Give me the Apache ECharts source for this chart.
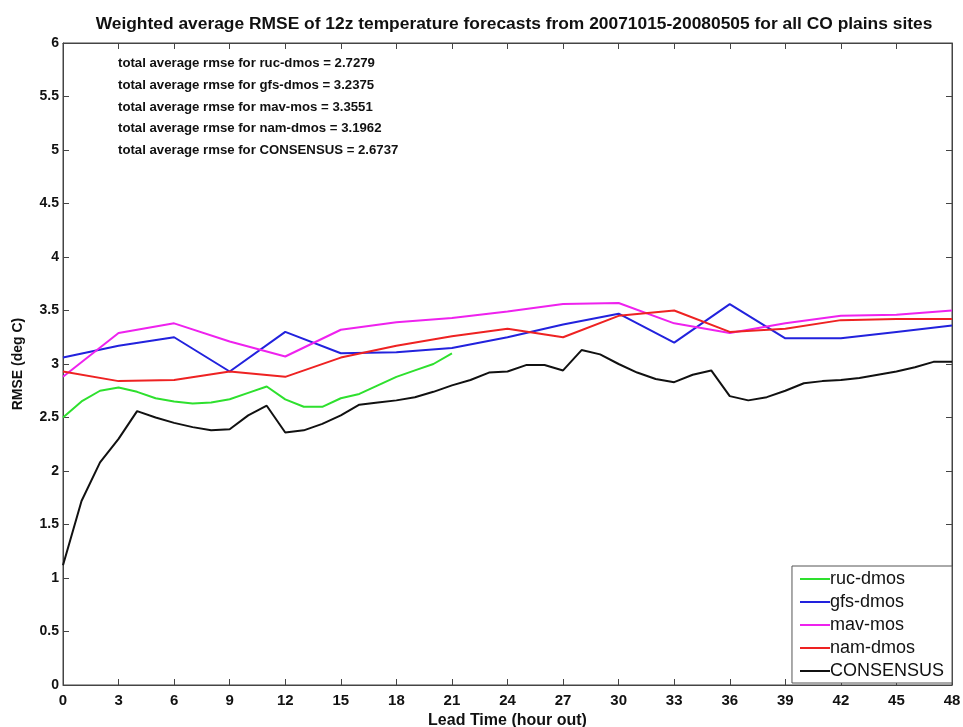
<!DOCTYPE html>
<html>
<head>
<meta charset="utf-8">
<script src="https://cdn.jsdelivr.net/npm/echarts@6/dist/echarts.min.js"></script>
<style>
html,body{margin:0;padding:0;background:#fff;}
#chart{width:963px;height:727px;}
</style>
</head>
<body>
<div id="chart"></div>
<script>
// ---- data ----
var titleText = 'Weighted average RMSE of 12z temperature forecasts from 20071015-20080505 for all CO plains sites';
var xAxisName = 'Lead Time (hour out)';
var yAxisName = 'RMSE (deg C)';
var seriesNames = ['ruc-dmos', 'gfs-dmos', 'mav-mos', 'nam-dmos', 'CONSENSUS'];
var totalRmse = ['2.7279', '3.2375', '3.3551', '3.1962', '2.6737'];

var hoursRuc = [0,1,2,3,4,5,6,7,8,9,10,11,12,13,14,15,16,17,18,19,20,21];
var rucDmos = [2.50,2.65,2.75,2.78,2.74,2.68,2.65,2.63,2.64,2.67,2.73,2.79,2.67,2.60,2.60,2.68,2.72,2.80,2.88,2.94,3.00,3.10];

var hours3 = [0,3,6,9,12,15,18,21,24,27,30,33,36,39,42,45,48];
var gfsDmos = [3.06,3.17,3.25,2.93,3.30,3.10,3.11,3.15,3.25,3.37,3.47,3.20,3.56,3.24,3.24,3.30,3.36];
var mavMos  = [2.88,3.29,3.38,3.21,3.07,3.32,3.39,3.43,3.49,3.56,3.57,3.38,3.29,3.38,3.45,3.46,3.50];
var namDmos = [2.93,2.84,2.85,2.93,2.88,3.06,3.17,3.26,3.33,3.25,3.45,3.50,3.30,3.33,3.41,3.42,3.42];

var hoursAll = [0,1,2,3,4,5,6,7,8,9,10,11,12,13,14,15,16,17,18,19,20,21,22,23,24,25,26,27,28,29,30,31,32,33,34,35,36,37,38,39,40,41,42,43,44,45,46,47,48];
var consensus = [1.12,1.72,2.08,2.30,2.56,2.50,2.45,2.41,2.38,2.39,2.52,2.61,2.36,2.38,2.44,2.52,2.62,2.64,2.66,2.69,2.74,2.80,2.85,2.92,2.93,2.99,2.99,2.94,3.13,3.09,3.00,2.92,2.86,2.83,2.90,2.94,2.70,2.66,2.69,2.75,2.82,2.84,2.85,2.87,2.90,2.93,2.97,3.02,3.02];

var xTicks = {min: 0, max: 48, interval: 3};
var yTicks = {min: 0, max: 6, interval: 0.5};

// ---- chart ----
function zip(xs, ys){ return xs.map(function(x,i){ return [x, ys[i]]; }); }
var colors = ['#2ee02e', '#2222dd', '#ee22ee', '#ee2222', '#111111'];
var seriesData = [zip(hoursRuc, rucDmos), zip(hours3, gfsDmos), zip(hours3, mavMos), zip(hours3, namDmos), zip(hoursAll, consensus)];

var font = '"Liberation Sans", Arial, sans-serif';
var chart = echarts.init(document.getElementById('chart'), null, {renderer: 'canvas'});

var grid = {left: 63, right: 11, top: 43, bottom: 42, containLabel: false, outerBoundsMode: 'none',
            show: true, borderColor: '#444', borderWidth: 1, backgroundColor: 'transparent'};

var annot = seriesNames.map(function(n, i){
  return {
    type: 'text', left: 118, top: 57 + i * 21.7,
    style: {text: 'total average rmse for ' + n + ' = ' + totalRmse[i], font: 'bold 13.2px ' + font, fill: '#111'}
  };
});

function axisLine(){ return {show: true, onZero: false, lineStyle: {color: '#444', width: 1}}; }
function axisTick(){ return {show: true, inside: true, length: 6, lineStyle: {color: '#444', width: 1}}; }
var option = {
  backgroundColor: '#fff',
  animation: false,
  title: {
    text: titleText, left: 509, top: 11, textAlign: 'center',
    textStyle: {fontFamily: font, fontSize: 17.4, fontWeight: 'bold', color: '#111'}
  },
  grid: grid,
  legend: {
    data: seriesNames, orient: 'vertical', right: 11, bottom: 44,
    backgroundColor: '#fff', borderColor: '#555', borderWidth: 1,
    padding: [4, 8, 3, 8], itemGap: 5, itemWidth: 30, itemHeight: 2, icon: 'rect',
    textStyle: {fontFamily: font, fontSize: 18, color: '#111', padding: [0,0,0,-5]}
  },
  xAxis: [{
    type: 'value', position: 'bottom', min: xTicks.min, max: xTicks.max, interval: xTicks.interval,
    name: xAxisName, nameLocation: 'middle', nameGap: 25,
    nameTextStyle: {fontFamily: font, fontSize: 16, fontWeight: 'bold', color: '#111'},
    axisLine: axisLine(), axisTick: axisTick(),
    axisLabel: {fontFamily: font, fontSize: 15, fontWeight: 'bold', color: '#111', margin: 8},
    splitLine: {show: false}
  }, {
    type: 'value', position: 'top', min: xTicks.min, max: xTicks.max, interval: xTicks.interval,
    axisLine: axisLine(), axisTick: axisTick(),
    axisLabel: {show: false}, splitLine: {show: false}
  }],
  yAxis: [{
    type: 'value', position: 'left', min: yTicks.min, max: yTicks.max, interval: yTicks.interval,
    name: yAxisName, nameLocation: 'middle', nameGap: 38,
    nameTextStyle: {fontFamily: font, fontSize: 14, fontWeight: 'bold', color: '#111'},
    axisLine: axisLine(), axisTick: axisTick(),
    axisLabel: {fontFamily: font, fontSize: 14, fontWeight: 'bold', color: '#111', margin: 4},
    splitLine: {show: false}
  }, {
    type: 'value', position: 'right', min: yTicks.min, max: yTicks.max, interval: yTicks.interval,
    axisLine: axisLine(), axisTick: axisTick(),
    axisLabel: {show: false}, splitLine: {show: false}
  }],
  graphic: annot,
  series: seriesNames.map(function(n, i){
    return {
      name: n, type: 'line', data: seriesData[i], xAxisIndex: 0, yAxisIndex: 0,
      symbol: 'none', color: colors[i],
      lineStyle: {width: 2, color: colors[i]}
    };
  })
};
chart.setOption(option);
</script>
</body>
</html>
